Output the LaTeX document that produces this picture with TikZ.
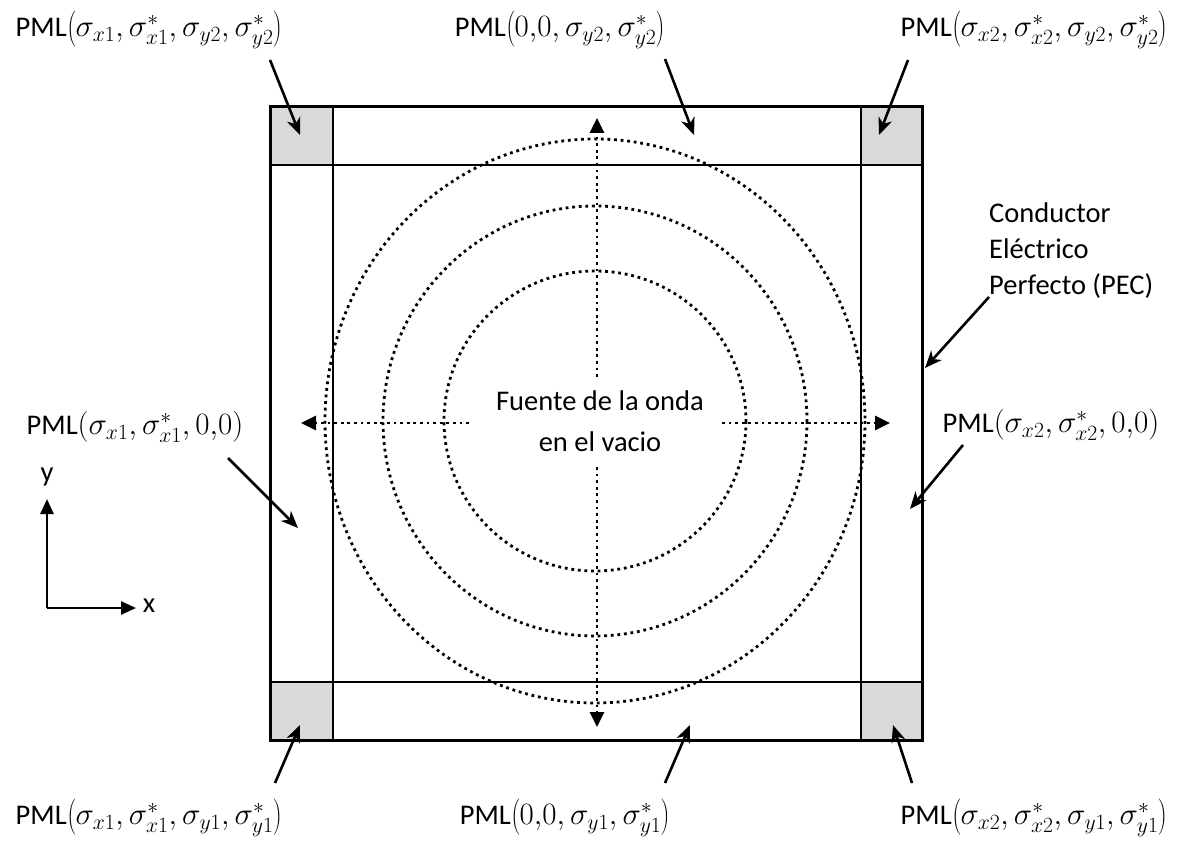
\RequirePackage{fix-cm}
\documentclass[tikz,border=0pt]{standalone}
\usepackage{fontspec}
\setmainfont{Carlito}
\usetikzlibrary{arrows.meta}
\definecolor{cellgray}{HTML}{D9D9D9}
\newcommand\pmlmath[1]{{\fontsize{31}{36}\selectfont$#1$}}
\tikzset{
  frame/.style={line width=3pt},
  celline/.style={line width=2.6pt},
  dotline/.style={line width=2.8pt, dash pattern=on 2.8pt off 3.8pt},
  wavearrow/.style={dotline, -{Triangle[length=15pt,width=14pt]}},
  pointer/.style={line width=2.6pt, -{Stealth[length=17pt,width=14pt,inset=5pt]}},
  axisarrow/.style={line width=2.6pt, -{Triangle[length=15pt,width=13pt]}},
  lbl/.style={inner sep=0pt, font=\fontsize{28.5}{34}\selectfont},
}
\begin{document}
\begin{tikzpicture}[x=1pt,y=-1pt]
\useasboundingbox (0,0) rectangle (1188,842);
% corner cells
\fill[cellgray] (270,107) rectangle (333,165);
\fill[cellgray] (861,107) rectangle (922,165);
\fill[cellgray] (270,682) rectangle (333,740);
\fill[cellgray] (861,682) rectangle (922,740);
% wave fronts
\coordinate (src) at (595,421);
\draw[dotline] (src) ellipse [x radius=151, y radius=150];
\draw[dotline] (src) ellipse [x radius=212, y radius=215];
\draw[dotline] (src) ellipse [x radius=270, y radius=282];
% inner lines
\draw[celline] (333,107) -- (333,740);
\draw[celline] (861,107) -- (861,740);
\draw[celline] (270,165) -- (922,165);
\draw[celline] (270,682) -- (922,682);
% outer frame
\draw[frame] (270,107) rectangle (922,740);
% centre text
\node[lbl, align=center, font=\fontsize{28.5}{41}\selectfont] (fuente) at (600,421) {Fuente de la onda\\en el vacio};
% wave arrows
\coordinate (upS) at (597,377); \coordinate (upE) at (597,118);
\coordinate (dnS) at (597,467); \coordinate (dnE) at (597,727);
\coordinate (lfS) at (469,423); \coordinate (lfE) at (301,423);
\coordinate (rtS) at (722,423); \coordinate (rtE) at (890,423);
\draw[wavearrow] (upS) -- (upE);
\draw[wavearrow] (dnS) -- (dnE);
\draw[wavearrow] (lfS) -- (lfE);
\draw[wavearrow] (rtS) -- (rtE);
% labels
\node[lbl] (tl) at (149,30) {PML\pmlmath{\left(\sigma_{x1},\sigma^*_{x1},\sigma_{y2},\sigma^*_{y2}\right)}};
\node[lbl] (tc) at (560,30) {PML\pmlmath{\left(0{,}0,\sigma_{y2},\sigma^*_{y2}\right)}};
\node[lbl] (tr) at (1034,30) {PML\pmlmath{\left(\sigma_{x2},\sigma^*_{x2},\sigma_{y2},\sigma^*_{y2}\right)}};
\node[lbl] (ml) at (135,427) {PML\pmlmath{(\sigma_{x1},\sigma^*_{x1},0{,}0)}};
\node[lbl] (mr) at (1051,425) {PML\pmlmath{(\sigma_{x2},\sigma^*_{x2},0{,}0)}};
\node[lbl] (bl) at (149,818) {PML\pmlmath{\left(\sigma_{x1},\sigma^*_{x1},\sigma_{y1},\sigma^*_{y1}\right)}};
\node[lbl] (bc) at (565,818) {PML\pmlmath{\left(0{,}0,\sigma_{y1},\sigma^*_{y1}\right)}};
\node[lbl] (br) at (1034,818) {PML\pmlmath{\left(\sigma_{x2},\sigma^*_{x2},\sigma_{y1},\sigma^*_{y1}\right)}};
\node[lbl, align=left, anchor=north west, font=\fontsize{28.5}{36}\selectfont] (pec) at (989,203) {Conductor\\Eléctrico\\Perfecto (PEC)};
% pointer arrows
\coordinate (tlS) at (270,60);  \coordinate (tlE) at (300,135);
\coordinate (tcS) at (665,59);  \coordinate (tcE) at (694,135);
\coordinate (trS) at (908,60);  \coordinate (trE) at (879,135);
\coordinate (mlS) at (228,458); \coordinate (mlE) at (298,528);
\coordinate (mrS) at (963,445); \coordinate (mrE) at (910,509);
\coordinate (pecS) at (989,297); \coordinate (pecE) at (925,368);
\coordinate (blS) at (275,783); \coordinate (blE) at (300,725);
\coordinate (bcS) at (665,783); \coordinate (bcE) at (690,725);
\coordinate (brS) at (912,783); \coordinate (brE) at (893,725);
\foreach \p in {tl,tc,tr,ml,mr,pec,bl,bc,br}
  \draw[pointer] (\p S) -- (\p E);
% axes
\coordinate (org) at (47,608);
\coordinate (yE) at (47,499);
\coordinate (xE) at (136,608);
\draw[axisarrow] (org) -- (yE);
\draw[axisarrow] (org) -- (xE);
\node[lbl] (ylab) at (47,477) {y};
\node[lbl] (xlab) at (149,606) {x};
\end{tikzpicture}
\end{document}
